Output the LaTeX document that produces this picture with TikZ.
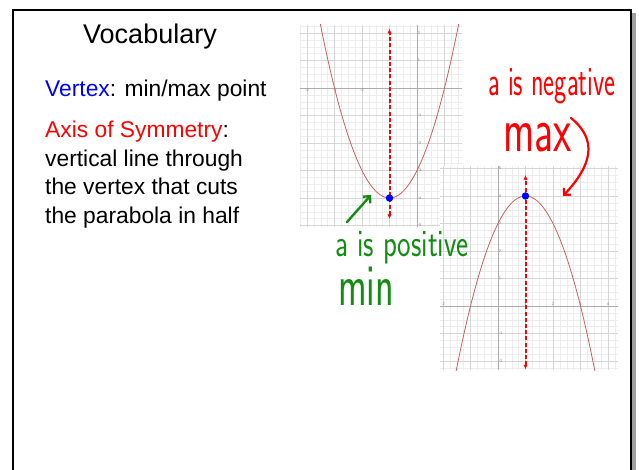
\documentclass[tikz,border=0pt]{standalone}
\usepackage{fontspec}
\setmainfont{Liberation Sans}
\usepackage{graphicx}
\usetikzlibrary{arrows.meta}

\definecolor{handgreen}{RGB}{20,140,20}
\definecolor{curvered}{RGB}{205,95,95}

\begin{document}
\begin{tikzpicture}[
    x=1bp, y=-1bp,
    txt/.style={anchor=base west, inner sep=0pt, font=\fontsize{22.8bp}{26bp}\selectfont},
    hand/.style={anchor=base west, inner sep=0pt},
    minorgrid/.style={gray!14, line width=0.4bp},
    majorgrid/.style={gray!32, line width=0.5bp},
    axisline/.style={gray!65, line width=0.7bp},
    curve/.style={curvered, line width=0.8bp},
    symline/.style={draw=red, line width=2bp, dash pattern=on 4bp off 2.2bp,
        {Latex[length=4.5bp,width=4.5bp,red]}-{Latex[length=4.5bp,width=4.5bp,red]}},
    vertexdot/.style={circle, fill=blue, inner sep=0pt, minimum size=7.5bp},
    ticklbl/.style={font=\fontsize{4bp}{4bp}\selectfont, text=gray, inner sep=0.6bp},
    greenarrow/.style={-{Straight Barb[length=5bp,width=10bp]}, draw=handgreen, line width=2.4bp, line cap=round},
    redarrow/.style={-{Straight Barb[length=5bp,width=10bp]}, draw=red, line width=2.2bp, line cap=round}
]
\useasboundingbox (0,0) rectangle (639,470);

% ==========================================
% Slide frame
% ==========================================
\fill[gray!75] (632,13) rectangle (635.5,471);
\draw[line width=2bp] (12.5,471) -- (12.5,10.5) -- (631,10.5) -- (631,471);

% ==========================================
% Vocabulary text
% ==========================================
\node[anchor=base, inner sep=0pt, font=\fontsize{27bp}{30bp}\selectfont] (title) at (150,44) {Vocabulary};
\node[txt] (vertex) at (45,97) {\textcolor{blue}{Vertex}: min/max point};
\node[txt] (axis) at (45,138) {\textcolor{red}{Axis of Symmetry}:};
\node[txt] (line1) at (45,167) {vertical line through};
\node[txt] (line2) at (45,195) {the vertex that cuts};
\node[txt] (line3) at (45,224) {the parabola in half};

% ==========================================
% Graph (a): a positive, y=(x+1)^2-4
% ==========================================
\begin{scope}[shift={(417,88)}, x=27.5bp, y=27.5bp]
    \fill[white] (-4.25,-5.05) rectangle (1.64,2.3);
    \draw[minorgrid, step=0.25] (-4.25,-5.05) grid (1.64,2.3);
    \draw[majorgrid, step=1] (-4.25,-5.05) grid (1.64,2.3);
    \draw[axisline] (-4.25,0) -- (1.64,0);
    \draw[axisline] (0,-5.05) -- (0,2.3);
    \foreach \t in {-4,-3,-2,-1}
        \node[ticklbl, below] at (\t,0) {\t};
    \foreach \t in {2,1,-1,-2,-3,-4,-5}
        \node[ticklbl, right] at (0,\t) {\t};
    \begin{scope}
        \clip (-4.25,-5.05) rectangle (1.64,2.3);
        \draw[curve, domain=-3.55:1.55, samples=80] plot (\x, {(\x+1)^2-4});
    \end{scope}
    \path[symline] (-1,-4.76) -- (-1,2.15);
    \node[vertexdot] (vtxmin) at (-1,-4) {};
\end{scope}

% ==========================================
% Graph (b): a negative, y=-(x-1)^2+4
% ==========================================
\begin{scope}[shift={(498,306)}, x=27.5bp, y=27.5bp]
    \fill[white] (-2.1,-2.33) rectangle (4.36,5.09);
    \draw[minorgrid, step=0.25] (-2.1,-2.33) grid (4.36,5.09);
    \draw[majorgrid, step=1] (-2.1,-2.33) grid (4.36,5.09);
    \draw[axisline] (-2.1,0) -- (4.36,0);
    \draw[axisline] (0,-2.33) -- (0,5.09);
    \foreach \t in {-2,1,2,3,4}
        \node[ticklbl, above] at (\t,0) {\t};
    \foreach \t in {5,4,3,2,1,-1,-2}
        \node[ticklbl, right] at (0,\t) {\t};
    \begin{scope}
        \clip (-2.1,-2.33) rectangle (4.36,5.09);
        \draw[curve, domain=-1.6:3.6, samples=80] plot (\x, {-(\x-1)^2+4});
    \end{scope}
    \path[symline] (1,-2.3) -- (1,4.76);
    \node[vertexdot] (vtxmax) at (1,4) {};
\end{scope}

% ==========================================
% Handwritten notes
% ==========================================
\node[hand, text=handgreen, font=\sffamily\fontsize{31bp}{31bp}\selectfont] (apos) at (335,257) {\scalebox{0.93}[1.25]{a is positive}};
\node[hand, text=handgreen, font=\sffamily\fontsize{44bp}{44bp}\selectfont] (minlbl) at (338,306) {\scalebox{0.875}[1.35]{min}};
\node[hand, text=red, font=\sffamily\fontsize{26bp}{26bp}\selectfont] (aneg) at (488,96) {\scalebox{1.0}[1.6]{a is negative}};
\node[hand, text=red, font=\sffamily\fontsize{40bp}{40bp}\selectfont] (maxlbl) at (503,152) {\scalebox{1.05}[1.6]{max}};

\coordinate (gtail) at (347,222);
\coordinate (gtip) at (371,195);
\draw[greenarrow] (gtail) -- (gtip);

\coordinate (rtail) at (571,118);
\coordinate (rtip) at (563,196);
\draw[redarrow] (rtail) .. controls (598,140) and (592,165) .. (rtip);

\end{tikzpicture}
\end{document}
